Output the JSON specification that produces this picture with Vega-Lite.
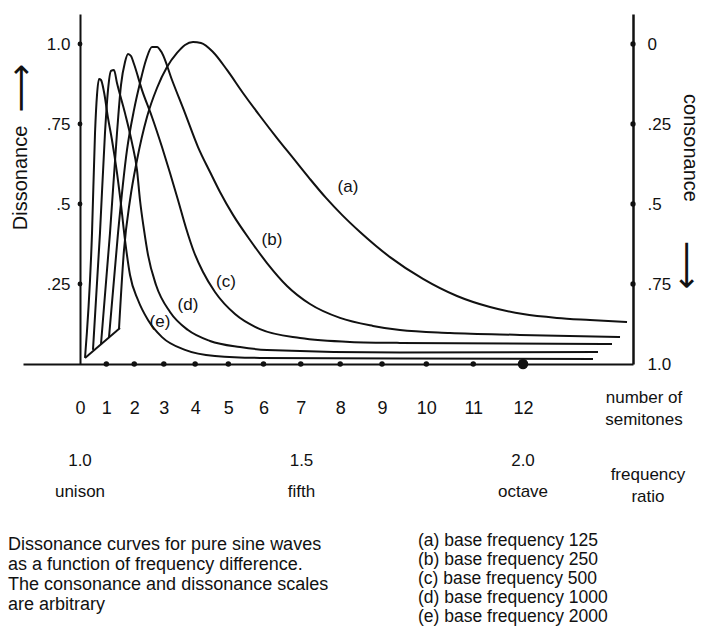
{
  "$schema": "https://vega.github.io/schema/vega-lite/v6.json",
  "width": 610,
  "height": 350,
  "autosize": {"type": "none"},
  "padding": {"left": 23, "top": 14, "right": 74, "bottom": 271},
  "background": "white",
  "config": {
    "view": {"stroke": null},
    "font": "Liberation Sans",
    "axis": {"labelFont": "Liberation Sans", "labelColor": "#111", "grid": false, "title": null},
    "text": {"font": "Liberation Sans", "color": "#111"}
  },
  "datasets": {
    "curves": [
      {"curve": "e", "ratio": 1.0113, "dissonance": 0.019},
      {"curve": "e", "ratio": 1.0271, "dissonance": 0.409},
      {"curve": "e", "ratio": 1.0339, "dissonance": 0.722},
      {"curve": "e", "ratio": 1.0384, "dissonance": 0.841},
      {"curve": "e", "ratio": 1.0429, "dissonance": 0.891},
      {"curve": "e", "ratio": 1.0474, "dissonance": 0.8875},
      {"curve": "e", "ratio": 1.0542, "dissonance": 0.85},
      {"curve": "e", "ratio": 1.0632, "dissonance": 0.769},
      {"curve": "e", "ratio": 1.0722, "dissonance": 0.70},
      {"curve": "e", "ratio": 1.0835, "dissonance": 0.597},
      {"curve": "e", "ratio": 1.0926, "dissonance": 0.497},
      {"curve": "e", "ratio": 1.1016, "dissonance": 0.3875},
      {"curve": "e", "ratio": 1.1129, "dissonance": 0.278},
      {"curve": "e", "ratio": 1.1309, "dissonance": 0.20},
      {"curve": "e", "ratio": 1.1535, "dissonance": 0.1375},
      {"curve": "e", "ratio": 1.1851, "dissonance": 0.084},
      {"curve": "e", "ratio": 1.2370, "dissonance": 0.044},
      {"curve": "e", "ratio": 1.3047, "dissonance": 0.025},
      {"curve": "e", "ratio": 1.4063, "dissonance": 0.019},
      {"curve": "e", "ratio": 1.7223, "dissonance": 0.017},
      {"curve": "e", "ratio": 2.1580, "dissonance": 0.016},
      {"curve": "d", "ratio": 1.0293, "dissonance": 0.044},
      {"curve": "d", "ratio": 1.0451, "dissonance": 0.409},
      {"curve": "d", "ratio": 1.0564, "dissonance": 0.722},
      {"curve": "d", "ratio": 1.0632, "dissonance": 0.856},
      {"curve": "d", "ratio": 1.0700, "dissonance": 0.916},
      {"curve": "d", "ratio": 1.0767, "dissonance": 0.919},
      {"curve": "d", "ratio": 1.0835, "dissonance": 0.878},
      {"curve": "d", "ratio": 1.1016, "dissonance": 0.784},
      {"curve": "d", "ratio": 1.1174, "dissonance": 0.691},
      {"curve": "d", "ratio": 1.1287, "dissonance": 0.606},
      {"curve": "d", "ratio": 1.1354, "dissonance": 0.5125},
      {"curve": "d", "ratio": 1.1445, "dissonance": 0.419},
      {"curve": "d", "ratio": 1.1535, "dissonance": 0.341},
      {"curve": "d", "ratio": 1.1716, "dissonance": 0.247},
      {"curve": "d", "ratio": 1.2032, "dissonance": 0.1625},
      {"curve": "d", "ratio": 1.2438, "dissonance": 0.106},
      {"curve": "d", "ratio": 1.2935, "dissonance": 0.072},
      {"curve": "d", "ratio": 1.3612, "dissonance": 0.053},
      {"curve": "d", "ratio": 1.4221, "dissonance": 0.044},
      {"curve": "d", "ratio": 1.7223, "dissonance": 0.036},
      {"curve": "d", "ratio": 2.1693, "dissonance": 0.0375},
      {"curve": "c", "ratio": 1.0474, "dissonance": 0.0625},
      {"curve": "c", "ratio": 1.0677, "dissonance": 0.409},
      {"curve": "c", "ratio": 1.0835, "dissonance": 0.722},
      {"curve": "c", "ratio": 1.0926, "dissonance": 0.872},
      {"curve": "c", "ratio": 1.1016, "dissonance": 0.944},
      {"curve": "c", "ratio": 1.1084, "dissonance": 0.969},
      {"curve": "c", "ratio": 1.1151, "dissonance": 0.9625},
      {"curve": "c", "ratio": 1.1219, "dissonance": 0.9375},
      {"curve": "c", "ratio": 1.1400, "dissonance": 0.856},
      {"curve": "c", "ratio": 1.1625, "dissonance": 0.772},
      {"curve": "c", "ratio": 1.1851, "dissonance": 0.678},
      {"curve": "c", "ratio": 1.2032, "dissonance": 0.597},
      {"curve": "c", "ratio": 1.2212, "dissonance": 0.5125},
      {"curve": "c", "ratio": 1.2393, "dissonance": 0.425},
      {"curve": "c", "ratio": 1.2573, "dissonance": 0.35},
      {"curve": "c", "ratio": 1.2777, "dissonance": 0.2875},
      {"curve": "c", "ratio": 1.3047, "dissonance": 0.225},
      {"curve": "c", "ratio": 1.3499, "dissonance": 0.156},
      {"curve": "c", "ratio": 1.4063, "dissonance": 0.109},
      {"curve": "c", "ratio": 1.4966, "dissonance": 0.081},
      {"curve": "c", "ratio": 1.6095, "dissonance": 0.069},
      {"curve": "c", "ratio": 1.7223, "dissonance": 0.066},
      {"curve": "c", "ratio": 2.2009, "dissonance": 0.0625},
      {"curve": "b", "ratio": 1.0655, "dissonance": 0.084},
      {"curve": "b", "ratio": 1.0858, "dissonance": 0.409},
      {"curve": "b", "ratio": 1.1061, "dissonance": 0.669},
      {"curve": "b", "ratio": 1.1219, "dissonance": 0.794},
      {"curve": "b", "ratio": 1.1354, "dissonance": 0.878},
      {"curve": "b", "ratio": 1.1490, "dissonance": 0.95},
      {"curve": "b", "ratio": 1.1625, "dissonance": 0.991},
      {"curve": "b", "ratio": 1.1738, "dissonance": 0.991},
      {"curve": "b", "ratio": 1.1851, "dissonance": 0.972},
      {"curve": "b", "ratio": 1.2077, "dissonance": 0.8875},
      {"curve": "b", "ratio": 1.2370, "dissonance": 0.784},
      {"curve": "b", "ratio": 1.2664, "dissonance": 0.678},
      {"curve": "b", "ratio": 1.2935, "dissonance": 0.6},
      {"curve": "b", "ratio": 1.3160, "dissonance": 0.5375},
      {"curve": "b", "ratio": 1.3454, "dissonance": 0.466},
      {"curve": "b", "ratio": 1.3837, "dissonance": 0.3875},
      {"curve": "b", "ratio": 1.4221, "dissonance": 0.3156},
      {"curve": "b", "ratio": 1.4673, "dissonance": 0.244},
      {"curve": "b", "ratio": 1.5192, "dissonance": 0.1875},
      {"curve": "b", "ratio": 1.5869, "dissonance": 0.144},
      {"curve": "b", "ratio": 1.6614, "dissonance": 0.119},
      {"curve": "b", "ratio": 1.7223, "dissonance": 0.106},
      {"curve": "b", "ratio": 1.8352, "dissonance": 0.097},
      {"curve": "b", "ratio": 1.9932, "dissonance": 0.091},
      {"curve": "b", "ratio": 2.2190, "dissonance": 0.084},
      {"curve": "a", "ratio": 1.0880, "dissonance": 0.109},
      {"curve": "a", "ratio": 1.0993, "dissonance": 0.356},
      {"curve": "a", "ratio": 1.1129, "dissonance": 0.5125},
      {"curve": "a", "ratio": 1.1287, "dissonance": 0.6375},
      {"curve": "a", "ratio": 1.1512, "dissonance": 0.772},
      {"curve": "a", "ratio": 1.1738, "dissonance": 0.8625},
      {"curve": "a", "ratio": 1.1964, "dissonance": 0.928},
      {"curve": "a", "ratio": 1.2190, "dissonance": 0.972},
      {"curve": "a", "ratio": 1.2370, "dissonance": 0.997},
      {"curve": "a", "ratio": 1.2551, "dissonance": 1.006},
      {"curve": "a", "ratio": 1.2731, "dissonance": 1.003},
      {"curve": "a", "ratio": 1.3002, "dissonance": 0.975},
      {"curve": "a", "ratio": 1.3318, "dissonance": 0.919},
      {"curve": "a", "ratio": 1.3679, "dissonance": 0.847},
      {"curve": "a", "ratio": 1.4063, "dissonance": 0.775},
      {"curve": "a", "ratio": 1.4447, "dissonance": 0.706},
      {"curve": "a", "ratio": 1.4808, "dissonance": 0.644},
      {"curve": "a", "ratio": 1.5192, "dissonance": 0.578},
      {"curve": "a", "ratio": 1.5553, "dissonance": 0.519},
      {"curve": "a", "ratio": 1.5914, "dissonance": 0.466},
      {"curve": "a", "ratio": 1.6321, "dissonance": 0.4125},
      {"curve": "a", "ratio": 1.6998, "dissonance": 0.334},
      {"curve": "a", "ratio": 1.7743, "dissonance": 0.266},
      {"curve": "a", "ratio": 1.8510, "dissonance": 0.2125},
      {"curve": "a", "ratio": 1.9255, "dissonance": 0.178},
      {"curve": "a", "ratio": 2.0000, "dissonance": 0.156},
      {"curve": "a", "ratio": 2.0767, "dissonance": 0.144},
      {"curve": "a", "ratio": 2.1512, "dissonance": 0.1375},
      {"curve": "a", "ratio": 2.2348, "dissonance": 0.131},
      {"curve": "start", "ratio": 1.0113, "dissonance": 0.019},
      {"curve": "start", "ratio": 1.0903, "dissonance": 0.1125}
    ],
    "semitones": [
      {"semitone": 1, "ratio": 1.05946},
      {"semitone": 2, "ratio": 1.12246},
      {"semitone": 3, "ratio": 1.18921},
      {"semitone": 4, "ratio": 1.25992},
      {"semitone": 5, "ratio": 1.33484},
      {"semitone": 6, "ratio": 1.41421},
      {"semitone": 7, "ratio": 1.49831},
      {"semitone": 8, "ratio": 1.58740},
      {"semitone": 9, "ratio": 1.68179},
      {"semitone": 10, "ratio": 1.78180},
      {"semitone": 11, "ratio": 1.88775},
      {"semitone": 12, "ratio": 2.0}
    ],
    "scaleTicks": [
      {"dissonance": 0.25},
      {"dissonance": 0.5},
      {"dissonance": 0.75},
      {"dissonance": 1.0}
    ],
    "curveLabels": [
      {"label": "(a)", "ratio": 1.605, "dissonance": 0.553},
      {"label": "(b)", "ratio": 1.4334, "dissonance": 0.3875},
      {"label": "(c)", "ratio": 1.3296, "dissonance": 0.256},
      {"label": "(d)", "ratio": 1.2438, "dissonance": 0.184},
      {"label": "(e)", "ratio": 1.1806, "dissonance": 0.131}
    ],
    "intervals": [
      {"ratio": 1.0, "value": "1.0", "name": "unison"},
      {"ratio": 1.5, "value": "1.5", "name": "fifth"},
      {"ratio": 2.0, "value": "2.0", "name": "octave"}
    ]
  },
  "layer": [
    {
      "data": {"name": "curves"},
      "transform": [{"filter": "datum.curve != 'start'"}],
      "mark": {"type": "line", "interpolate": "monotone", "strokeWidth": 2, "color": "#111"},
      "encoding": {
        "x": {
          "field": "ratio", "type": "quantitative",
          "scale": {"domain": [0.87133, 2.24831], "nice": false, "zero": false},
          "axis": {
            "values": [1, 1.05946, 1.12246, 1.18921, 1.25992, 1.33484, 1.41421, 1.49831, 1.5874, 1.68179, 1.7818, 1.88775, 2],
            "labelExpr": "round(12 * log(datum.value) / LN2)",
            "domain": true, "domainWidth": 2, "domainColor": "#111",
            "ticks": false, "tickSize": 0, "labelPadding": 35,
            "labelFontSize": 18, "labelOverlap": false, "labelFlush": false, "labelBound": false
          }
        },
        "y": {
          "field": "dissonance", "type": "quantitative",
          "scale": {"domain": [0, 1.09375], "nice": false, "zero": false},
          "axis": {
            "orient": "left", "offset": -57,
            "values": [0.25, 0.5, 0.75, 1],
            "labelExpr": "datum.value == 1 ? '1.0' : replace(format(datum.value, '.2~f'), '0.', '.')",
            "domain": true, "domainWidth": 2, "domainColor": "#111",
            "ticks": false, "tickSize": 0, "labelPadding": 10, "labelFontSize": 17,
            "labelOverlap": false
          }
        },
        "detail": {"field": "curve", "type": "nominal"}
      }
    },
    {
      "data": {"name": "curves"},
      "transform": [{"filter": "datum.curve == 'start'"}],
      "mark": {"type": "line", "strokeWidth": 2, "color": "#111"},
      "encoding": {
        "x": {"field": "ratio", "type": "quantitative", "scale": {"domain": [0.87133, 2.24831], "nice": false, "zero": false}, "axis": null},
        "y": {"field": "dissonance", "type": "quantitative", "scale": {"domain": [0, 1.09375], "nice": false, "zero": false}, "axis": null}
      }
    },
    {
      "data": {"name": "semitones"},
      "mark": {"type": "point", "filled": true, "color": "#111", "opacity": 1},
      "encoding": {
        "x": {"field": "ratio", "type": "quantitative", "scale": {"domain": [0.87133, 2.24831], "nice": false, "zero": false}, "axis": null},
        "y": {"datum": 0, "type": "quantitative", "scale": {"domain": [0, 1.09375], "nice": false, "zero": false}, "axis": null},
        "size": {"condition": {"test": "datum.semitone == 12", "value": 110}, "value": 30}
      }
    },
    {
      "data": {"name": "scaleTicks"},
      "mark": {"type": "point", "filled": true, "color": "#111", "opacity": 1, "size": 24},
      "encoding": {
        "x": {"datum": 1, "type": "quantitative", "scale": {"domain": [0.87133, 2.24831], "nice": false, "zero": false}, "axis": null},
        "y": {"field": "dissonance", "type": "quantitative", "scale": {"domain": [0, 1.09375], "nice": false, "zero": false}, "axis": null}
      }
    },
    {
      "data": {"name": "scaleTicks"},
      "mark": {"type": "point", "filled": true, "color": "#111", "opacity": 1, "size": 28},
      "encoding": {
        "x": {"datum": 2.24831, "type": "quantitative", "scale": {"domain": [0.87133, 2.24831], "nice": false, "zero": false}, "axis": null},
        "y": {
          "field": "dissonance", "type": "quantitative",
          "scale": {"domain": [0, 1.09375], "nice": false, "zero": false},
          "axis": {
            "orient": "right",
            "values": [0, 0.25, 0.5, 0.75, 1],
            "labelExpr": "datum.value == 1 ? '0' : datum.value == 0 ? '1.0' : replace(format(1 - datum.value, '.2~f'), '0.', '.')",
            "domain": true, "domainWidth": 2.5, "domainColor": "#111",
            "ticks": false, "tickSize": 0, "labelPadding": 14, "labelFontSize": 17,
            "labelOverlap": false
          }
        }
      }
    },
    {
      "data": {"name": "curveLabels"},
      "mark": {"type": "text", "fontSize": 17, "align": "center", "baseline": "middle"},
      "encoding": {
        "x": {"field": "ratio", "type": "quantitative", "scale": {"domain": [0.87133, 2.24831], "nice": false, "zero": false}, "axis": null},
        "y": {"field": "dissonance", "type": "quantitative", "scale": {"domain": [0, 1.09375], "nice": false, "zero": false}, "axis": null},
        "text": {"field": "label"}
      }
    },
    {
      "data": {"name": "intervals"},
      "mark": {"type": "text", "fontSize": 17, "align": "center", "baseline": "middle"},
      "encoding": {
        "x": {"field": "ratio", "type": "quantitative", "scale": {"domain": [0.87133, 2.24831], "nice": false, "zero": false}, "axis": null},
        "y": {"datum": -0.303, "type": "quantitative", "scale": {"domain": [0, 1.09375], "nice": false, "zero": false}, "axis": null},
        "text": {"field": "value"}
      }
    },
    {
      "data": {"name": "intervals"},
      "mark": {"type": "text", "fontSize": 17, "align": "center", "baseline": "middle"},
      "encoding": {
        "x": {"field": "ratio", "type": "quantitative", "scale": {"domain": [0.87133, 2.24831], "nice": false, "zero": false}, "axis": null},
        "y": {"datum": -0.4, "type": "quantitative", "scale": {"domain": [0, 1.09375], "nice": false, "zero": false}, "axis": null},
        "text": {"field": "name"}
      }
    },
    {
      "data": {"values": [{"note": "semitone axis title"}]},
      "mark": {"type": "text", "fontSize": 17, "align": "center", "baseline": "middle", "lineHeight": 22, "text": ["number of", "semitones"]},
      "encoding": {
        "x": {"datum": 2.2731, "type": "quantitative", "scale": {"domain": [0.87133, 2.24831], "nice": false, "zero": false}, "axis": null},
        "y": {"datum": -0.10625, "type": "quantitative", "scale": {"domain": [0, 1.09375], "nice": false, "zero": false}, "axis": null}
      }
    },
    {
      "data": {"values": [{"note": "ratio axis title"}]},
      "mark": {"type": "text", "fontSize": 17, "align": "center", "baseline": "middle", "lineHeight": 22, "text": ["frequency", "ratio"]},
      "encoding": {
        "x": {"datum": 2.2821, "type": "quantitative", "scale": {"domain": [0.87133, 2.24831], "nice": false, "zero": false}, "axis": null},
        "y": {"datum": -0.3469, "type": "quantitative", "scale": {"domain": [0, 1.09375], "nice": false, "zero": false}, "axis": null}
      }
    },
    {
      "data": {"values": [{"note": "Dissonance"}]},
      "mark": {"type": "text", "fontSize": 20, "align": "center", "baseline": "middle", "angle": 270},
      "encoding": {
        "x": {"datum": 0.86682, "type": "quantitative", "scale": {"domain": [0.87133, 2.24831], "nice": false, "zero": false}, "axis": null},
        "y": {"datum": 0.58125, "type": "quantitative", "scale": {"domain": [0, 1.09375], "nice": false, "zero": false}, "axis": null},
        "text": {"field": "note"}
      }
    },
    {
      "data": {"values": [{"note": "⟶"}]},
      "mark": {"type": "text", "font": "DejaVu Sans", "fontSize": 34, "align": "center", "baseline": "middle", "angle": 270},
      "encoding": {
        "x": {"datum": 0.86907, "type": "quantitative", "scale": {"domain": [0.87133, 2.24831], "nice": false, "zero": false}, "axis": null},
        "y": {"datum": 0.8625, "type": "quantitative", "scale": {"domain": [0, 1.09375], "nice": false, "zero": false}, "axis": null},
        "text": {"field": "note"}
      }
    },
    {
      "data": {"values": [{"note": "consonance"}]},
      "mark": {"type": "text", "fontSize": 20, "align": "center", "baseline": "middle", "angle": 90},
      "encoding": {
        "x": {"datum": 2.37698, "type": "quantitative", "scale": {"domain": [0.87133, 2.24831], "nice": false, "zero": false}, "axis": null},
        "y": {"datum": 0.675, "type": "quantitative", "scale": {"domain": [0, 1.09375], "nice": false, "zero": false}, "axis": null},
        "text": {"field": "note"}
      }
    },
    {
      "data": {"values": [{"note": "⟶"}]},
      "mark": {"type": "text", "font": "DejaVu Sans", "fontSize": 34, "align": "center", "baseline": "middle", "angle": 90},
      "encoding": {
        "x": {"datum": 2.36795, "type": "quantitative", "scale": {"domain": [0.87133, 2.24831], "nice": false, "zero": false}, "axis": null},
        "y": {"datum": 0.309, "type": "quantitative", "scale": {"domain": [0, 1.09375], "nice": false, "zero": false}, "axis": null},
        "text": {"field": "note"}
      }
    },
    {
      "data": {"values": [{"note": "caption"}]},
      "mark": {"type": "text", "fontSize": 18, "align": "left", "baseline": "middle", "lineHeight": 20,
        "text": ["Dissonance curves for pure sine waves", "as a function of frequency difference.", "The consonance and dissonance scales", "are arbitrary"]},
      "encoding": {
        "x": {"datum": 0.83747, "type": "quantitative", "scale": {"domain": [0.87133, 2.24831], "nice": false, "zero": false}, "axis": null},
        "y": {"datum": -0.5656, "type": "quantitative", "scale": {"domain": [0, 1.09375], "nice": false, "zero": false}, "axis": null}
      }
    },
    {
      "data": {"values": [{"note": "key"}]},
      "mark": {"type": "text", "fontSize": 17.5, "align": "left", "baseline": "middle", "lineHeight": 19,
        "text": ["(a) base frequency 125", "(b) base frequency 250", "(c) base frequency 500", "(d) base frequency 1000", "(e) base frequency 2000"]},
      "encoding": {
        "x": {"datum": 1.76298, "type": "quantitative", "scale": {"domain": [0.87133, 2.24831], "nice": false, "zero": false}, "axis": null},
        "y": {"datum": -0.5531, "type": "quantitative", "scale": {"domain": [0, 1.09375], "nice": false, "zero": false}, "axis": null}
      }
    }
  ],
  "resolve": {"axis": {"x": "independent", "y": "independent"}}
}
